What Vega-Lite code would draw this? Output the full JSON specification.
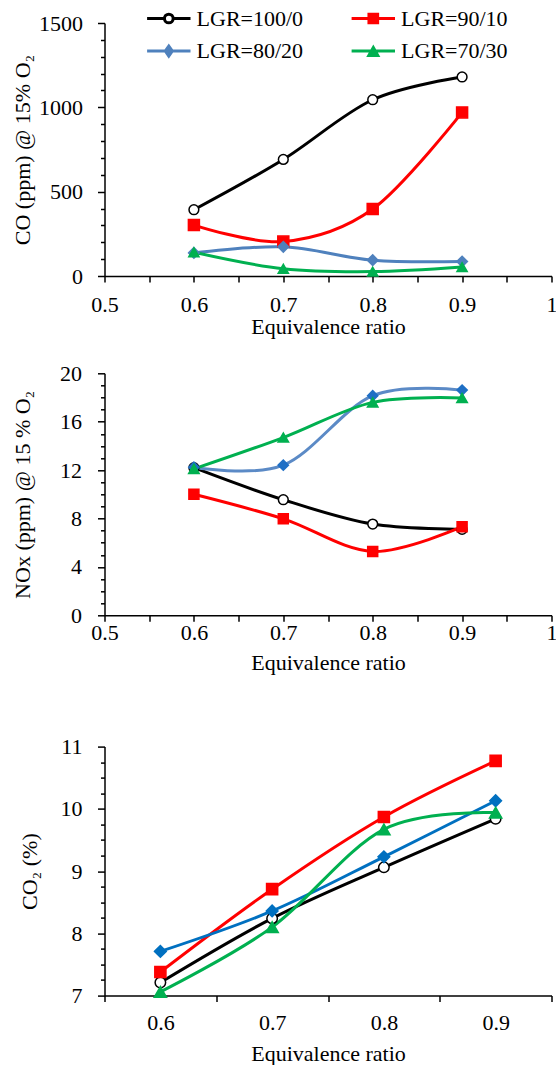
{
  "$schema": "https://vega.github.io/schema/vega-lite/v6.json",
  "padding": {"left": 10.5, "top": 7, "right": 0, "bottom": 0},
  "background": "white",
  "config": {
    "font": "Liberation Serif",
    "view": {"stroke": null},
    "axis": {
      "labelFont": "Liberation Serif", "labelFontSize": 22, "labelColor": "black",
      "titleFont": "Liberation Serif", "titleFontSize": 22, "titleFontWeight": "normal", "titleColor": "black",
      "domainColor": "black", "domainWidth": 1.5, "tickColor": "black", "tickWidth": 1.5,
      "grid": false, "labelOverlap": false, "labelFlush": false, "labelBound": false
    }
  },
  "data": {"values": [
    {"p": "CO", "s": "LGR=100/0", "phi": 0.6, "v": 393},
    {"p": "CO", "s": "LGR=100/0", "phi": 0.7, "v": 691},
    {"p": "CO", "s": "LGR=100/0", "phi": 0.8, "v": 1045},
    {"p": "CO", "s": "LGR=100/0", "phi": 0.9, "v": 1180},
    {"p": "CO", "s": "LGR=90/10", "phi": 0.6, "v": 302},
    {"p": "CO", "s": "LGR=90/10", "phi": 0.7, "v": 204},
    {"p": "CO", "s": "LGR=90/10", "phi": 0.8, "v": 397},
    {"p": "CO", "s": "LGR=90/10", "phi": 0.9, "v": 970},
    {"p": "CO", "s": "LGR=80/20", "phi": 0.6, "v": 137},
    {"p": "CO", "s": "LGR=80/20", "phi": 0.7, "v": 173},
    {"p": "CO", "s": "LGR=80/20", "phi": 0.8, "v": 94},
    {"p": "CO", "s": "LGR=80/20", "phi": 0.9, "v": 86},
    {"p": "CO", "s": "LGR=70/30", "phi": 0.6, "v": 141},
    {"p": "CO", "s": "LGR=70/30", "phi": 0.7, "v": 43},
    {"p": "CO", "s": "LGR=70/30", "phi": 0.8, "v": 26},
    {"p": "CO", "s": "LGR=70/30", "phi": 0.9, "v": 53},
    {"p": "NOx", "s": "LGR=100/0", "phi": 0.6, "v": 12.2},
    {"p": "NOx", "s": "LGR=100/0", "phi": 0.7, "v": 9.55},
    {"p": "NOx", "s": "LGR=100/0", "phi": 0.8, "v": 7.54},
    {"p": "NOx", "s": "LGR=100/0", "phi": 0.9, "v": 7.1},
    {"p": "NOx", "s": "LGR=90/10", "phi": 0.6, "v": 10.0},
    {"p": "NOx", "s": "LGR=90/10", "phi": 0.7, "v": 7.97},
    {"p": "NOx", "s": "LGR=90/10", "phi": 0.8, "v": 5.28},
    {"p": "NOx", "s": "LGR=90/10", "phi": 0.9, "v": 7.32},
    {"p": "NOx", "s": "LGR=80/20", "phi": 0.6, "v": 12.24},
    {"p": "NOx", "s": "LGR=80/20", "phi": 0.7, "v": 12.41},
    {"p": "NOx", "s": "LGR=80/20", "phi": 0.8, "v": 18.15},
    {"p": "NOx", "s": "LGR=80/20", "phi": 0.9, "v": 18.61},
    {"p": "NOx", "s": "LGR=70/30", "phi": 0.6, "v": 12.1},
    {"p": "NOx", "s": "LGR=70/30", "phi": 0.7, "v": 14.69},
    {"p": "NOx", "s": "LGR=70/30", "phi": 0.8, "v": 17.6},
    {"p": "NOx", "s": "LGR=70/30", "phi": 0.9, "v": 17.96},
    {"p": "CO2", "s": "LGR=100/0", "phi": 0.6, "v": 7.21},
    {"p": "CO2", "s": "LGR=100/0", "phi": 0.7, "v": 8.24},
    {"p": "CO2", "s": "LGR=100/0", "phi": 0.8, "v": 9.06},
    {"p": "CO2", "s": "LGR=100/0", "phi": 0.9, "v": 9.84},
    {"p": "CO2", "s": "LGR=90/10", "phi": 0.6, "v": 7.38},
    {"p": "CO2", "s": "LGR=90/10", "phi": 0.7, "v": 8.71},
    {"p": "CO2", "s": "LGR=90/10", "phi": 0.8, "v": 9.87},
    {"p": "CO2", "s": "LGR=90/10", "phi": 0.9, "v": 10.77},
    {"p": "CO2", "s": "LGR=80/20", "phi": 0.6, "v": 7.71},
    {"p": "CO2", "s": "LGR=80/20", "phi": 0.7, "v": 8.36},
    {"p": "CO2", "s": "LGR=80/20", "phi": 0.8, "v": 9.23},
    {"p": "CO2", "s": "LGR=80/20", "phi": 0.9, "v": 10.13},
    {"p": "CO2", "s": "LGR=70/30", "phi": 0.6, "v": 7.06},
    {"p": "CO2", "s": "LGR=70/30", "phi": 0.7, "v": 8.1},
    {"p": "CO2", "s": "LGR=70/30", "phi": 0.8, "v": 9.67},
    {"p": "CO2", "s": "LGR=70/30", "phi": 0.9, "v": 9.94}
  ]},
  "spacing": 97.3,
  "bounds": "flush",
  "resolve": {"scale": {"color": "independent", "fill": "independent", "stroke": "independent", "shape": "independent", "size": "independent", "x": "independent", "y": "independent"}},
  "vconcat": [
    {
      "width": 447, "height": 253,
      "transform": [{"filter": "datum.p === 'CO'"}],
      "encoding": {
        "x": {"field": "phi", "type": "quantitative", "scale": {"domain": [0.5, 1], "nice": false, "zero": false},
          "axis": {"title": "Equivalence ratio", "values": [0.5, 0.55, 0.6, 0.65, 0.7, 0.75, 0.8, 0.85, 0.9, 0.95, 1],
            "labelExpr": "round(datum.value*20)%2===0 ? format(datum.value,'~g') : ''",
            "tickSize": 6, "labelPadding": 12.6, "titleY": 40}},
        "y": {"field": "v", "type": "quantitative", "scale": {"domain": [0, 1500], "nice": false},
          "axis": {"title": "CO (ppm) @ 15% O₂", "values": [0, 100, 200, 300, 400, 500, 600, 700, 800, 900, 1000, 1100, 1200, 1300, 1400, 1500],
            "labelExpr": "datum.value%500===0 ? format(datum.value,'d') : ''",
            "tickSize": {"condition": {"test": "datum.value%500===0", "value": 7}, "value": 4},
            "labelPadding": 15, "titleX": -70.5}}
      },
      "layer": [
        {"mark": {"type": "line", "interpolate": "cardinal", "strokeWidth": 3},
         "encoding": {"color": {"field": "s", "type": "nominal",
           "scale": {"domain": ["LGR=100/0", "LGR=90/10", "LGR=80/20", "LGR=70/30"], "range": ["#000000", "#ff0000", "#4f81bd", "#00b050"]},
           "legend": {"orient": "none", "legendX": 36.6, "legendY": -15.5, "columns": 2, "direction": "horizontal", "title": null, "padding": 0,
             "labelFont": "Liberation Serif", "labelFontSize": 22, "labelColor": "black", "labelLimit": 300,
             "labelOffset": 33.5, "columnPadding": 41.5, "rowPadding": 10.6, "symbolSize": 100, "symbolStrokeWidth": 3,
             "encode": {"symbols": {"update": {
               "shape": {"signal": "datum.value==='LGR=100/0' ? 'M-1,0L2.47,0M4.21,0L7.68,0M4.21,0A0.87,0.87,0,1,1,2.47,0A0.87,0.87,0,1,1,4.21,0Z' : datum.value==='LGR=90/10' ? 'M-1,0L7.68,0M2.47,-0.87L4.21,-0.87L4.21,0.87L2.47,0.87Z' : datum.value==='LGR=80/20' ? 'M-1,0L7.68,0M3.34,-1L4.04,0L3.34,1L2.64,0Z' : 'M-1,0L7.68,0M3.34,-0.7L4.24,0.9L2.44,0.9Z'"},
               "fill": {"signal": "datum.value==='LGR=100/0' ? '#ffffff' : datum.value==='LGR=90/10' ? '#ff0000' : datum.value==='LGR=80/20' ? '#4f81bd' : '#00b050'"},
               "stroke": {"signal": "datum.value==='LGR=100/0' ? '#000000' : datum.value==='LGR=90/10' ? '#ff0000' : datum.value==='LGR=80/20' ? '#4f81bd' : '#00b050'"},
               "strokeWidth": {"value": 3},
               "opacity": {"value": 1},
               "size": {"value": 100}
             }}}}}}},
        {"mark": {"type": "point", "filled": true, "opacity": 1, "strokeWidth": 1.5},
         "encoding": {
           "shape": {"field": "s", "type": "nominal", "scale": {"range": ["circle", "triangle-up", "diamond", "square"]}, "legend": null},
           "fill": {"field": "s", "type": "nominal", "scale": {"range": ["#ffffff", "#00b050", "#4f81bd", "#ff0000"]}, "legend": null},
           "stroke": {"field": "s", "type": "nominal", "scale": {"range": ["#000000", "#00b050", "#4f81bd", "#ff0000"]}, "legend": null},
           "size": {"field": "s", "type": "nominal", "scale": {"range": [95, 121, 110, 95]}, "legend": null}
         }}
      ]
    },
    {
      "width": 447, "height": 276,
      "transform": [{"filter": "datum.p === 'NOx'"}],
      "encoding": {
        "x": {"field": "phi", "type": "quantitative", "scale": {"domain": [0.5, 1], "nice": false, "zero": false},
          "axis": {"title": "Equivalence ratio", "offset": -34, "values": [0.5, 0.55, 0.6, 0.65, 0.7, 0.75, 0.8, 0.85, 0.9, 0.95, 1],
            "labelExpr": "round(datum.value*20)%2===0 ? format(datum.value,'~g') : ''",
            "tickSize": 6, "labelPadding": 1.6, "titleY": 37}},
        "y": {"field": "v", "type": "quantitative", "scale": {"domain": [0, 20], "nice": false, "range": [242, 0]},
          "axis": {"title": "NOx (ppm) @ 15 % O₂", "values": [0, 1, 2, 3, 4, 5, 6, 7, 8, 9, 10, 11, 12, 13, 14, 15, 16, 17, 18, 19, 20],
            "labelExpr": "datum.value%4===0 ? format(datum.value,'d') : ''",
            "tickSize": {"condition": {"test": "datum.value%4===0", "value": 7}, "value": 4},
            "labelPadding": 16, "titleX": -70.5}}
      },
      "layer": [
        {"mark": {"type": "line", "interpolate": "cardinal", "strokeWidth": 3},
         "encoding": {"color": {"field": "s", "type": "nominal",
           "scale": {"domain": ["LGR=100/0", "LGR=90/10", "LGR=80/20", "LGR=70/30"], "range": ["#000000", "#ff0000", "#5b8ac6", "#00b050"]},
           "legend": null}}},
        {"mark": {"type": "point", "filled": true, "opacity": 1, "strokeWidth": 1.5},
         "encoding": {
           "shape": {"field": "s", "type": "nominal", "scale": {"domain": ["LGR=100/0", "LGR=90/10", "LGR=80/20", "LGR=70/30"], "range": ["circle", "square", "diamond", "triangle-up"]}, "legend": null},
           "fill": {"field": "s", "type": "nominal", "scale": {"domain": ["LGR=100/0", "LGR=90/10", "LGR=80/20", "LGR=70/30"], "range": ["#ffffff", "#ff0000", "#1f6fc5", "#00b050"]}, "legend": null},
           "stroke": {"field": "s", "type": "nominal", "scale": {"domain": ["LGR=100/0", "LGR=90/10", "LGR=80/20", "LGR=70/30"], "range": ["#000000", "#ff0000", "#1f6fc5", "#00b050"]}, "legend": null},
           "size": {"field": "s", "type": "nominal", "scale": {"domain": ["LGR=100/0", "LGR=90/10", "LGR=80/20", "LGR=70/30"], "range": [95, 110, 130, 130]}, "legend": null}
         }}
      ]
    },
    {
      "width": 447, "height": 249,
      "transform": [{"filter": "datum.p === 'CO2'"}],
      "encoding": {
        "x": {"field": "phi", "type": "quantitative", "scale": {"domain": [0.55, 0.95], "nice": false, "zero": false},
          "axis": {"title": "Equivalence ratio", "values": [0.55, 0.6, 0.65, 0.7, 0.75, 0.8, 0.85, 0.9, 0.95],
            "labelExpr": "round(datum.value*20)%2===0 ? format(datum.value,'~g') : ''",
            "tickOpacity": {"condition": {"test": "round(datum.value*20)%2===1", "value": 1}, "value": 0},
            "tickSize": 6, "labelPadding": 11, "titleY": 47.6}},
        "y": {"field": "v", "type": "quantitative", "scale": {"domain": [7, 11], "nice": false, "zero": false},
          "axis": {"title": "CO₂ (%)", "values": [7, 7.25, 7.5, 7.75, 8, 8.25, 8.5, 8.75, 9, 9.25, 9.5, 9.75, 10, 10.25, 10.5, 10.75, 11],
            "labelExpr": "datum.value%1===0 ? format(datum.value,'d') : ''",
            "tickSize": {"condition": {"test": "datum.value%1===0", "value": 7}, "value": 4},
            "labelPadding": 15.5, "titleX": -63}}
      },
      "layer": [
        {"mark": {"type": "line", "interpolate": "cardinal", "strokeWidth": 3},
         "encoding": {"color": {"field": "s", "type": "nominal",
           "scale": {"domain": ["LGR=100/0", "LGR=90/10", "LGR=80/20", "LGR=70/30"], "range": ["#000000", "#ff0000", "#0070c0", "#00b050"]},
           "legend": null}}},
        {"mark": {"type": "point", "filled": true, "opacity": 1, "strokeWidth": 1.5},
         "encoding": {
           "shape": {"field": "s", "type": "nominal", "scale": {"domain": ["LGR=100/0", "LGR=90/10", "LGR=80/20", "LGR=70/30"], "range": ["circle", "square", "diamond", "triangle-up"]}, "legend": null},
           "fill": {"field": "s", "type": "nominal", "scale": {"domain": ["LGR=100/0", "LGR=90/10", "LGR=80/20", "LGR=70/30"], "range": ["#ffffff", "#ff0000", "#0070c0", "#00b050"]}, "legend": null},
           "stroke": {"field": "s", "type": "nominal", "scale": {"domain": ["LGR=100/0", "LGR=90/10", "LGR=80/20", "LGR=70/30"], "range": ["#000000", "#ff0000", "#0070c0", "#00b050"]}, "legend": null},
           "size": {"field": "s", "type": "nominal", "scale": {"domain": ["LGR=100/0", "LGR=90/10", "LGR=80/20", "LGR=70/30"], "range": [110, 150, 150, 150]}, "legend": null}
         }}
      ]
    }
  ]
}
